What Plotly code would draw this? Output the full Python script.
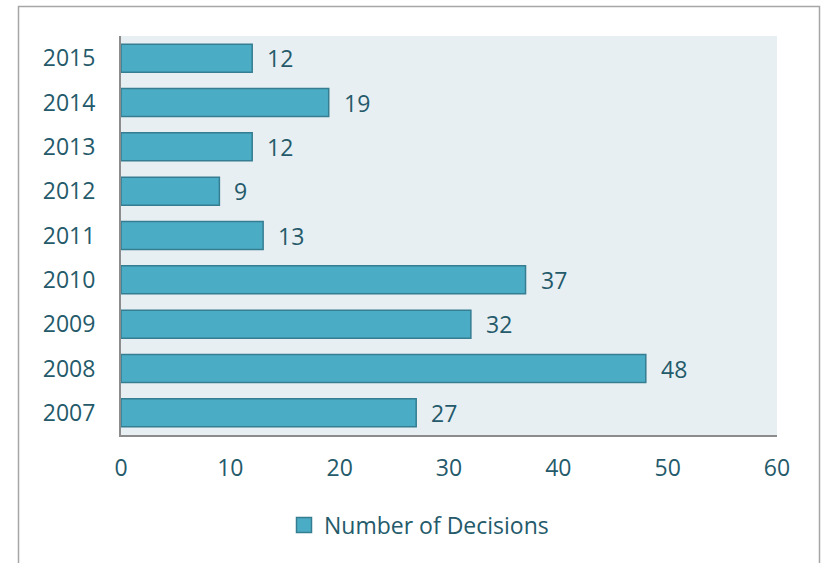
import plotly.graph_objects as go

years = ["2007", "2008", "2009", "2010", "2011", "2012", "2013", "2014", "2015"]
decisions = [27, 48, 32, 37, 13, 9, 12, 19, 12]
series_name = "Number of Decisions"
x_ticks = [0, 10, 20, 30, 40, 50, 60]

TEXT = "#245A6A"
FONT = "Open Sans"
FS = 23
BAR = "#4BACC6"
BAR_LINE = "#357D91"
W, H = 821, 563
L, R, T, B = 121, W - 777, 36, H - 435
pw, ph = W - L - R, H - T - B

fig = go.Figure()
fig.add_trace(go.Bar(
    y=years, x=decisions, orientation="h", name=series_name,
    marker=dict(color=BAR, line=dict(color=BAR_LINE, width=1.5)),
    showlegend=False,
))
# legend entry with a larger square swatch
fig.add_trace(go.Scatter(
    x=[None], y=[None], mode="markers", name=series_name,
    marker=dict(symbol="square", size=15, color=BAR, line=dict(color=BAR_LINE, width=1.5)),
    showlegend=True, hoverinfo="skip",
))

annotations = [
    dict(x=v, y=i, xref="x", yref="y", text=str(v), showarrow=False,
         xanchor="left", yanchor="middle", xshift=13,
         font=dict(family=FONT, size=FS, color=TEXT))
    for i, v in enumerate(decisions)
]

def px_x(p):
    return (p - L) / pw

def px_y(p):
    return 1 - (p - T) / ph

fig.update_layout(
    width=W, height=H,
    margin=dict(l=L, r=R, t=T, b=B),
    paper_bgcolor="white",
    plot_bgcolor="#E8EFF3",
    font=dict(family=FONT, size=FS, color=TEXT),
    bargap=0.37,
    annotations=annotations,
    legend=dict(orientation="h", x=px_x(419), xanchor="center", y=px_y(525), yanchor="middle",
                font=dict(family=FONT, size=FS, color=TEXT), itemwidth=30),
    shapes=[dict(type="rect", xref="paper", yref="paper",
                 x0=px_x(18.5), x1=px_x(819.5), y0=px_y(620), y1=px_y(6.5),
                 line=dict(color="#A6A6A6", width=1.5), layer="below")],
    xaxis=dict(range=[0, 60], tickvals=x_ticks, showgrid=False, zeroline=False,
               showline=True, linecolor="#8C8C8C", linewidth=2, ticks="",
               ticklabelstandoff=11, fixedrange=True),
    yaxis=dict(type="category", categoryorder="array", categoryarray=years,
               range=[-0.5, len(years) - 0.5],
               showgrid=False, zeroline=False, showline=True, linecolor="#8C8C8C",
               linewidth=2, ticks="", ticklabelstandoff=19, fixedrange=True),
)

fig.write_html("out.html", config={"displayModeBar": False},
               post_script="document.body.style.margin='0';")
